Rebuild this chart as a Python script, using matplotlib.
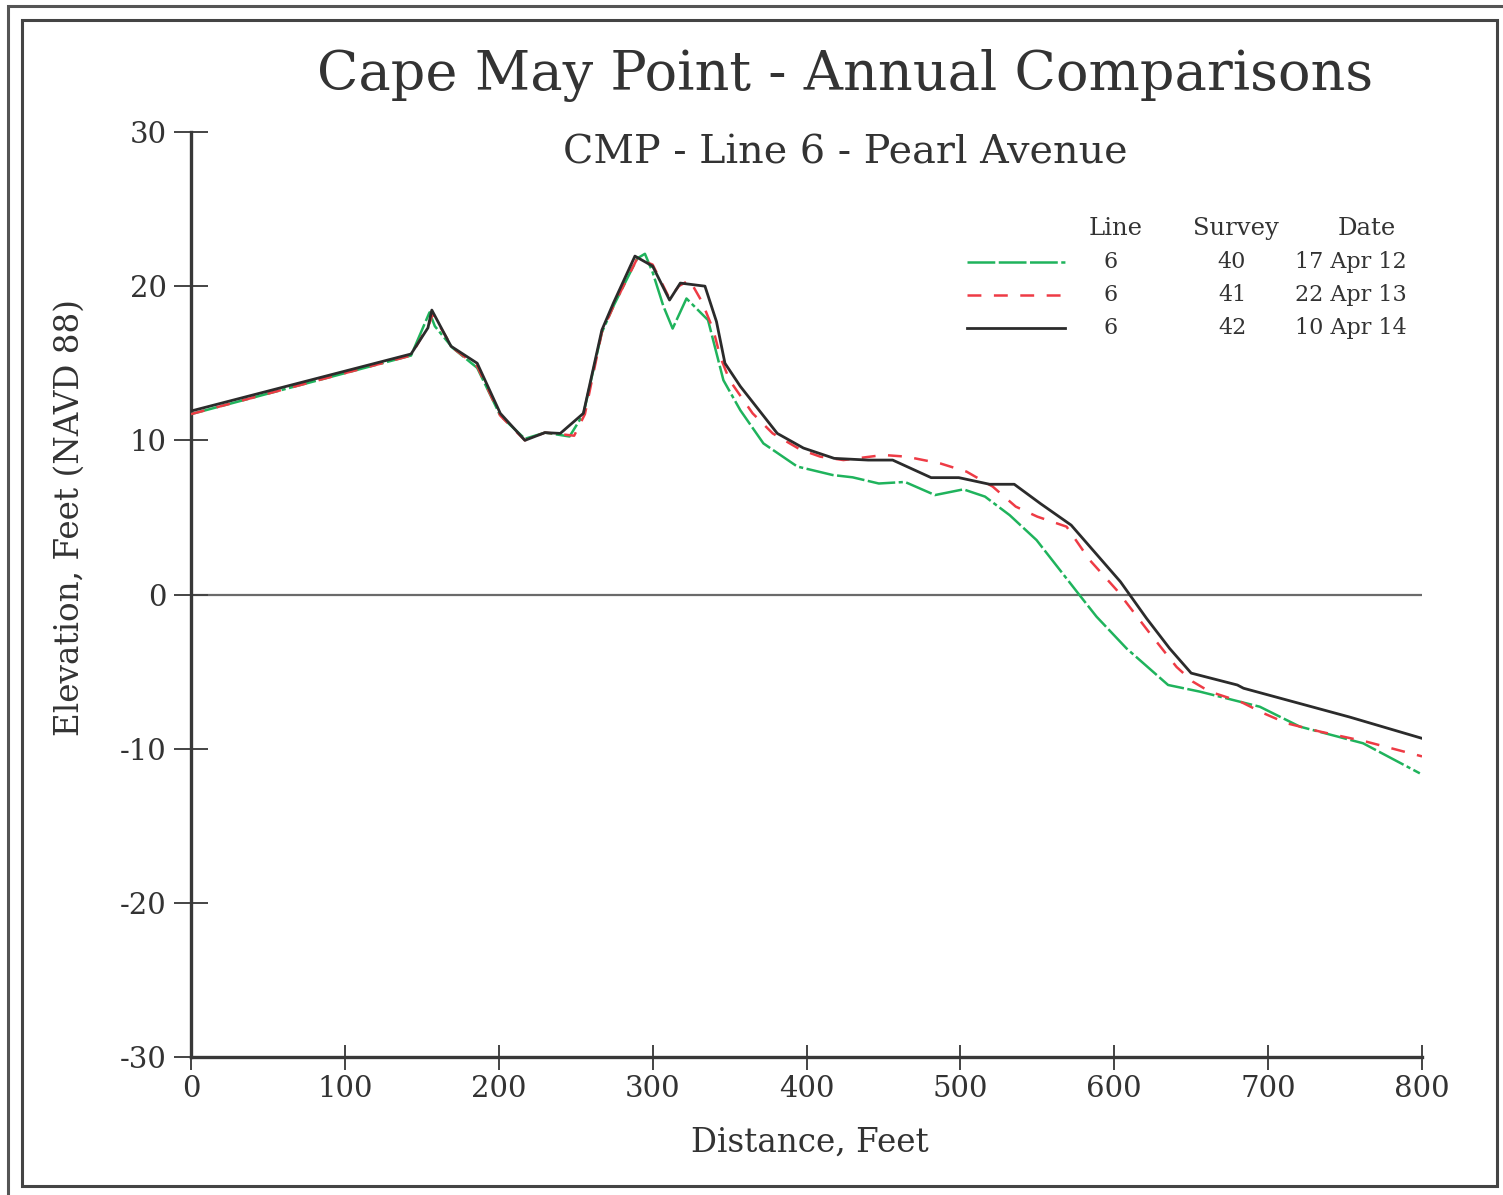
import matplotlib
matplotlib.use("Agg")
import matplotlib.pyplot as plt
from matplotlib.lines import Line2D
from matplotlib.patches import Rectangle

plt.rcParams["font.family"] = ["DejaVu Serif"]
plt.rcParams["lines.scale_dashes"] = False
plt.rcParams["axes.unicode_minus"] = False

TEXT = "#333333"

# 剖面数据（距离 ft，高程 ft）
x_42 = [0, 143, 154, 156.5, 169, 186, 201, 217, 230, 240, 255, 267, 274.5, 288.5,
        300, 311, 318, 334, 341.5, 347, 357, 381, 398, 418, 440, 456, 481, 499,
        519, 535, 552, 572, 604, 621, 636, 650, 680, 684, 753, 800]
y_42 = [11.9, 15.6, 17.3, 18.45, 16.1, 15.0, 11.75, 10.0, 10.5, 10.45, 11.75, 17.15, 18.9, 21.95,
        21.3, 19.1, 20.2, 20.0, 17.7, 15.0, 13.5, 10.45, 9.5, 8.83, 8.72, 8.72, 7.58, 7.58,
        7.15, 7.15, 5.9, 4.5, 0.83, -1.55, -3.5, -5.1, -5.87, -6.08, -7.95, -9.33]

x_41 = [0, 143, 155, 157, 170, 186, 201, 217, 230, 240, 249, 256, 267, 275, 290,
        300, 311, 317, 324, 332, 339.5, 344, 350, 365, 378, 396, 409, 424, 450, 465,
        487, 504, 521, 536, 550, 569, 584, 601.5, 623, 640.5, 651, 662, 682, 697,
        712, 734, 764, 800]
y_41 = [11.7, 15.5, 17.6, 18.2, 16.0, 14.8, 11.6, 10.0, 10.5, 10.4, 10.3, 11.7, 17.0, 18.8, 21.8,
        21.4, 19.2, 20.0, 20.4, 19.0, 17.15, 15.4, 13.9, 11.75, 10.45, 9.4, 8.94, 8.72, 9.05, 8.94,
        8.5, 7.97, 7.0, 5.7, 5.05, 4.4, 2.24, 0.3, -2.5, -4.7, -5.65, -6.3, -6.95, -7.7,
        -8.35, -8.9, -9.55, -10.5]

x_40 = [0, 143, 155, 158.5, 170, 186, 201, 217, 230, 246, 255, 267, 275, 290, 295,
        300, 307, 313, 322, 336, 346, 357, 372, 394, 417, 430, 447, 464, 483.5, 502,
        516, 532, 549.5, 576.5, 588.5, 608, 635, 655.6, 694.6, 720.6, 761.7, 798.6]
y_40 = [11.7, 15.5, 18.3, 17.4, 16.0, 14.7, 11.6, 10.1, 10.5, 10.25, 11.7, 17.0, 18.8, 21.8, 22.1,
        20.9, 18.7, 17.25, 19.2, 17.8, 13.9, 11.95, 9.8, 8.3, 7.75, 7.6, 7.2, 7.3, 6.45, 6.82,
        6.35, 5.15, 3.53, 0.08, -1.44, -3.5, -5.87, -6.3, -7.28, -8.57, -9.65, -11.6]

surveys = ["40", "41", "42"]
lines_no = ["6", "6", "6"]
dates = ["17 Apr 12", "22 Apr 13", "10 Apr 14"]

x_ticks = [0, 100, 200, 300, 400, 500, 600, 700, 800]
y_ticks = [-30, -20, -10, 0, 10, 20, 30]

GREEN = "#1fb35c"
RED = "#ee3b45"
BLACK = "#2b2b2b"

fig = plt.figure(figsize=(15.03, 11.95), dpi=100)
ax = fig.add_axes([191 / 1503, 138 / 1195, 1231 / 1503, 925 / 1195])

# 零线
ax.axhline(0, color="#6a6a6a", lw=1.6, zorder=1)

green_dash = (0, (20, 2.5, 20, 2.5, 20, 2.5, 3, 2.5))
red_dash = (0, (10, 9))

ax.plot(x_40, y_40, color=GREEN, lw=1.8, linestyle=green_dash, zorder=3)
ax.plot(x_41, y_41, color=RED, lw=1.8, linestyle=red_dash, zorder=3)
ax.plot(x_42, y_42, color=BLACK, lw=2.0, zorder=4)

ax.set_xlim(0, 800)
ax.set_ylim(-30, 30)
ax.set_xticks(x_ticks)
ax.set_yticks(y_ticks)

for s in ["top", "right"]:
    ax.spines[s].set_visible(False)
for s in ["left", "bottom"]:
    ax.spines[s].set_linewidth(2.4)
    ax.spines[s].set_color("#383838")

ax.tick_params(axis="x", direction="inout", length=18, width=1.4, color="#444444",
               labelsize=21, labelcolor=TEXT, pad=4)
ax.tick_params(axis="y", direction="inout", length=25, width=1.4, color="#444444",
               labelsize=21, labelcolor=TEXT, pad=5)

# 标题和坐标轴标签
fig.text(845 / 1503, 1 - 90 / 1195, "Cape May Point - Annual Comparisons",
         ha="center", va="baseline", fontsize=39, color=TEXT)
fig.text(845 / 1503, 1 - 163 / 1195, "CMP - Line 6 - Pearl Avenue",
         ha="center", va="baseline", fontsize=28.5, color=TEXT)
fig.text(810 / 1503, 1 - 1152 / 1195, "Distance, Feet",
         ha="center", va="baseline", fontsize=23.5, color=TEXT)
fig.text(70 / 1503, 1 - 518 / 1195, "Elevation, Feet (NAVD 88)",
         ha="center", va="center", rotation=90, fontsize=23.5, color=TEXT)

# 图例（手工排版）
leg_styles = [
    dict(color=GREEN, lw=1.8, linestyle=green_dash),
    dict(color=RED, lw=1.8, linestyle=red_dash),
    dict(color=BLACK, lw=2.0),
]
row_y = [0.8595, 0.8238, 0.7881]
head_y = 0.8962
ax.text(0.7514, head_y, "Line", transform=ax.transAxes, ha="center", va="center",
        fontsize=17.5, color=TEXT)
ax.text(0.8489, head_y, "Survey", transform=ax.transAxes, ha="center", va="center",
        fontsize=17.5, color=TEXT)
ax.text(0.9553, head_y, "Date", transform=ax.transAxes, ha="center", va="center",
        fontsize=17.5, color=TEXT)
for i in range(3):
    ax.add_line(Line2D([0.6304, 0.7100], [row_y[i], row_y[i]], transform=ax.transAxes,
                       **leg_styles[i]))
    ax.text(0.7474, row_y[i], lines_no[i], transform=ax.transAxes, ha="center",
            va="center", fontsize=16, color=TEXT)
    ax.text(0.8457, row_y[i], surveys[i], transform=ax.transAxes, ha="center",
            va="center", fontsize=16, color=TEXT)
    ax.text(0.9878, row_y[i], dates[i], transform=ax.transAxes, ha="right",
            va="center", fontsize=16, color=TEXT)

# 外框
fig.add_artist(Rectangle((8 / 1503, -0.05), 1.2, 1 - 6 / 1195 + 0.05, transform=fig.transFigure,
                         fill=False, lw=2.2, edgecolor="#555555"))
fig.add_artist(Rectangle((22 / 1503, 9 / 1195), 1475 / 1503, 1166 / 1195,
                         transform=fig.transFigure, fill=False, lw=2.2, edgecolor="#444444"))

fig.savefig("out.png", dpi=100)
